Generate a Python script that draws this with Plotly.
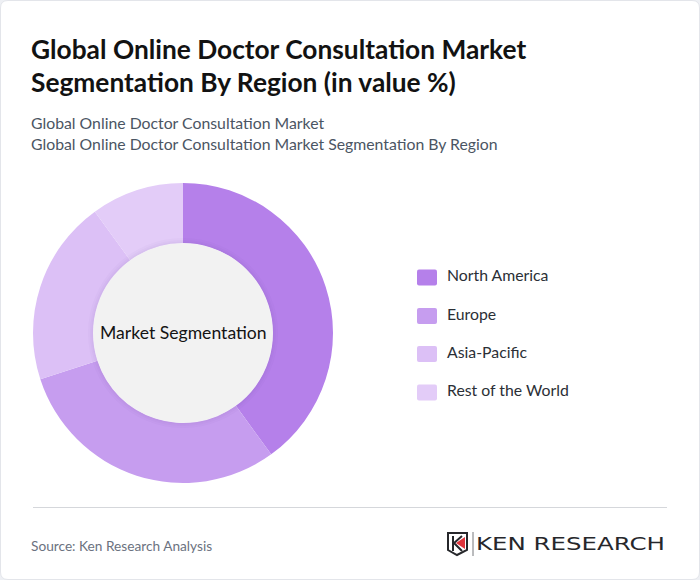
import plotly.graph_objects as go

W = 700
H = 580

regions = ['North America', 'Europe', 'Asia-Pacific', 'Rest of the World']
shares = [40, 30, 20, 10]
colors = ['#b580ea', '#c69def', '#dcc0f6', '#e3ccf8']

title_lines = ['Global Online Doctor Consultation Market',
               'Segmentation By Region (in value %)']
subtitle_lines = ['Global Online Doctor Consultation Market',
                  'Global Online Doctor Consultation Market Segmentation By Region']
center_label = 'Market Segmentation'
source_text = 'Source: Ken Research Analysis'
logo_text = 'KEN RESEARCH'


def px(x):
    return x / W


def py(y):
    return 1 - y / H


def text(x, y, s, size, color, anchor='left', family='Lato', weight=None):
    fig.add_annotation(
        x=px(x), y=py(y), xref='paper', yref='paper', text=s, showarrow=False,
        xanchor=anchor, yanchor='middle', align=anchor, borderpad=0, borderwidth=0,
        xshift=-2 if anchor == 'left' else 0,
        font=dict(family=family, size=size, color=color, weight=weight))


fig = go.Figure(go.Pie(
    labels=regions,
    values=shares,
    hole=0.6,
    sort=False,
    direction='clockwise',
    rotation=0,
    textinfo='none',
    marker=dict(colors=colors, line=dict(width=0)),
    domain=dict(x=[px(33), px(333)], y=[py(483), py(183)]),
))

# card outline
shapes = [dict(
    type='path', xref='paper', yref='paper',
    path=f'M {px(8)} {py(0.5)} L {px(692)} {py(0.5)} Q {px(699.5)} {py(0.5)} {px(699.5)} {py(8)} '
         f'L {px(699.5)} {py(572)} Q {px(699.5)} {py(579.5)} {px(692)} {py(579.5)} '
         f'L {px(8)} {py(579.5)} Q {px(0.5)} {py(579.5)} {px(0.5)} {py(572)} '
         f'L {px(0.5)} {py(8)} Q {px(0.5)} {py(0.5)} {px(8)} {py(0.5)} Z',
    line=dict(color='#e3e5ea', width=1), fillcolor='white', layer='below')]

# soft shadow round the centre disc
for r in [95, 93, 91.5]:
    shapes.append(dict(type='circle', xref='paper', yref='paper',
                       x0=px(183 - r), x1=px(183 + r), y0=py(333 + r), y1=py(333 - r),
                       fillcolor='rgba(90,50,140,0.025)', line_width=0))
shapes.append(dict(type='circle', xref='paper', yref='paper',
                   x0=px(93.5), x1=px(272.5), y0=py(422.5), y1=py(243.5),
                   fillcolor='#f2f2f2', line_width=0))

# legend swatches
legend_y = [277.5, 316, 354, 392.5]
for c, y in zip(colors, legend_y):
    shapes.append(dict(
        type='path', xref='paper', yref='paper', fillcolor=c, line_width=0,
        path=f'M {px(419)} {py(y - 8)} L {px(435)} {py(y - 8)} Q {px(437)} {py(y - 8)} {px(437)} {py(y - 6)} '
             f'L {px(437)} {py(y + 6)} Q {px(437)} {py(y + 8)} {px(435)} {py(y + 8)} '
             f'L {px(419)} {py(y + 8)} Q {px(417)} {py(y + 8)} {px(417)} {py(y + 6)} '
             f'L {px(417)} {py(y - 6)} Q {px(417)} {py(y - 8)} {px(419)} {py(y - 8)} Z'))

# footer rule
shapes.append(dict(type='line', xref='paper', yref='paper', x0=px(33), x1=px(667),
                   y0=py(507.5), y1=py(507.5), line=dict(color='#d5d7db', width=1)))

# logo mark
shapes.append(dict(
    type='path', xref='paper', yref='paper', fillcolor='rgba(0,0,0,0)',
    line=dict(color='#26272b', width=2),
    path=f'M {px(448)} {py(533)} L {px(467)} {py(533)} L {px(467)} {py(550)} '
         f'L {px(457)} {py(555)} L {px(448)} {py(550)} Z'))
shapes.append(dict(
    type='path', xref='paper', yref='paper', fillcolor='rgba(0,0,0,0)',
    line=dict(color='#26272b', width=2),
    path=f'M {px(453)} {py(536)} L {px(453)} {py(551)} M {px(462)} {py(536)} L {px(454)} {py(543)} L {px(462)} {py(551)}'))
shapes.append(dict(
    type='path', xref='paper', yref='paper', fillcolor='#e0343c', line_width=0,
    path=f'M {px(456)} {py(543)} L {px(465)} {py(537)} L {px(465)} {py(549)} Z'))
shapes.append(dict(type='line', xref='paper', yref='paper', x0=px(473), x1=px(473),
                   y0=py(532), y1=py(556), line=dict(color='#77787c', width=1)))

fig.update_layout(
    width=W, height=H,
    margin=dict(l=0, r=0, t=0, b=0),
    paper_bgcolor='#eef0f4',
    plot_bgcolor='white',
    showlegend=False,
    shapes=shapes,
    hovermode=False,
)

for i, line in enumerate(title_lines):
    text(33, 49 + i * 33, line, 26.3, '#121212', weight=700)
for i, line in enumerate(subtitle_lines):
    text(33, 122.5 + i * 21, line, 15.8, '#4b5563')
text(183.5, 332.5, center_label, 17.6, '#141414', anchor='center')
for name, y in zip(regions, [274.5, 313, 351, 389.5]):
    text(449, y, name, 15.8, '#2b2f36')
text(33, 545, source_text, 13.7, '#6b7280')
text(478, 543, logo_text, 18, '#26272b', family='DejaVu Sans')

# stretch the wordmark out to the width it has in the logo
post = """
document.body.style.margin='0';
document.querySelectorAll('.annotation-text').forEach(function(t){
  if(t.textContent==='KEN RESEARCH'){
    t.setAttribute('textLength','189');
    t.setAttribute('lengthAdjust','spacingAndGlyphs');
  }
});
"""
fig.write_html('out.html', post_script=post, config=dict(displayModeBar=False))
